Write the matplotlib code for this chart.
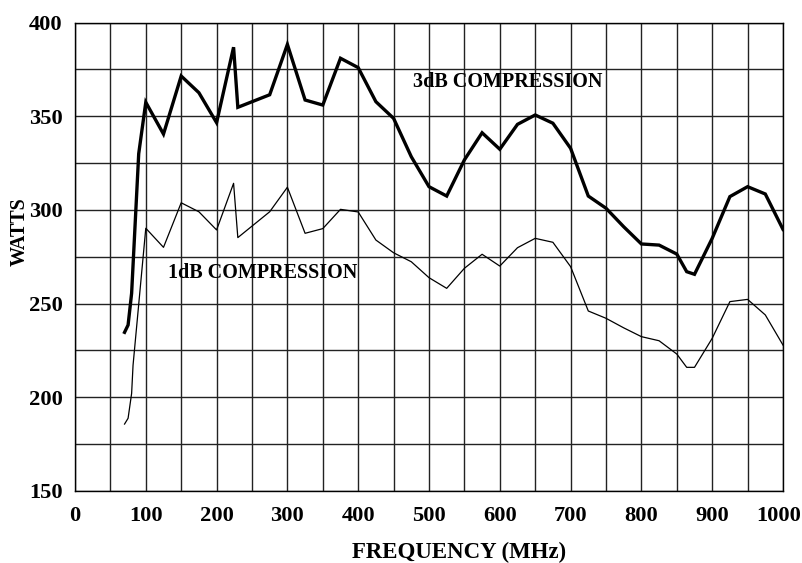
import matplotlib
matplotlib.use("Agg")
import matplotlib.pyplot as plt
from matplotlib.transforms import ScaledTranslation

# 3dB compression curve (MHz, watts)
freq_3db = [70, 75, 80, 90, 100, 125, 150, 175, 200, 224, 230, 275, 300, 325,
            350, 375, 400, 425, 450, 475, 500, 525, 550, 575, 600, 625, 650,
            675, 700, 725, 750, 775, 800, 825, 850, 864, 875, 900, 925, 950,
            975, 1000]
watts_3db = [234.6, 238.5, 255.5, 330, 357.5, 340.5, 371.5, 362.6, 346.6, 386.9,
             354.8, 361.5, 388.4, 358.7, 356, 381, 376, 357.8, 348.9, 328.4,
             312.4, 307.4, 326.7, 341.2, 332.4, 345.7, 350.7, 346.3, 332.9, 307.4,
             300.9, 291, 281.8, 281.2, 276.4, 267, 265.6, 284.8, 307.1, 312.4,
             308.5, 289.6]

# 1dB compression curve
freq_1db = [70, 75, 80, 82, 100, 125, 150, 175, 200, 224, 230, 275, 300, 325,
            350, 375, 400, 425, 450, 475, 500, 525, 550, 575, 600, 625, 650,
            675, 700, 725, 750, 775, 800, 825, 850, 864, 875, 900, 925, 950,
            975, 1000]
watts_1db = [185.6, 188.7, 202, 217, 290.2, 280, 303.8, 299, 289.3, 314.2,
             285.2, 299, 312.1, 287.5, 290, 300.3, 298.9, 283.9, 277.1, 272.3,
             263.8, 258.1, 268.8, 276.3, 270, 279.8, 284.8, 282.7, 269.7, 246,
             242.1, 237, 232.3, 230.1, 223, 215.9, 215.9, 231.4, 251, 252.2,
             243.9, 227.8]

x_ticks = list(range(0, 1001, 100))
y_ticks = list(range(150, 401, 50))

plt.rcParams["font.family"] = ["Liberation Serif", "DejaVu Serif"]
plt.rcParams["font.weight"] = "bold"

fig = plt.figure(figsize=(8.02, 5.63), dpi=100)
ax = fig.add_axes([0.0935, 0.1284, 0.8828, 0.8313])

ax.plot(freq_3db, watts_3db, color="black", lw=2.4, solid_joinstyle="miter")
ax.plot(freq_1db, watts_1db, color="black", lw=0.9)

ax.set_xlim(0, 1000)
ax.set_ylim(150, 400)
ax.set_xticks(x_ticks)
ax.set_xticks(range(50, 1000, 100), minor=True)
ax.set_yticks(y_ticks)
ax.set_yticks(range(175, 400, 50), minor=True)
ax.grid(True, which="both", color="#222222", lw=1.0)
ax.tick_params(which="both", length=0)
ax.tick_params(axis="x", pad=11, labelsize=16.2)
ax.tick_params(axis="y", pad=9, labelsize=16.2)
for lab in ax.get_xticklabels() + ax.get_yticklabels():
    lab.set_fontweight("bold")
# keep the last x label inside the canvas
last = ax.get_xticklabels()[-1]
last.set_transform(last.get_transform() + ScaledTranslation(-4 / 100, 0, fig.dpi_scale_trans))
for s in ax.spines.values():
    s.set_color("black")
    s.set_linewidth(1.0)

ax.text(478, 368.2, "3dB COMPRESSION", fontsize=14.5, fontweight="bold",
        va="center", ha="left")
ax.text(131, 266.3, "1dB COMPRESSION", fontsize=14.5, fontweight="bold",
        va="center", ha="left")

fig.text(459.5 / 802, 1 - 552 / 563, "FREQUENCY (MHz)", fontsize=16.5,
         fontweight="bold", ha="center", va="center")
fig.text(20 / 802, 1 - 232 / 563, "WATTS", fontsize=14.5, fontweight="bold",
         rotation=90, ha="center", va="center")

fig.savefig("out.png", dpi=100)
